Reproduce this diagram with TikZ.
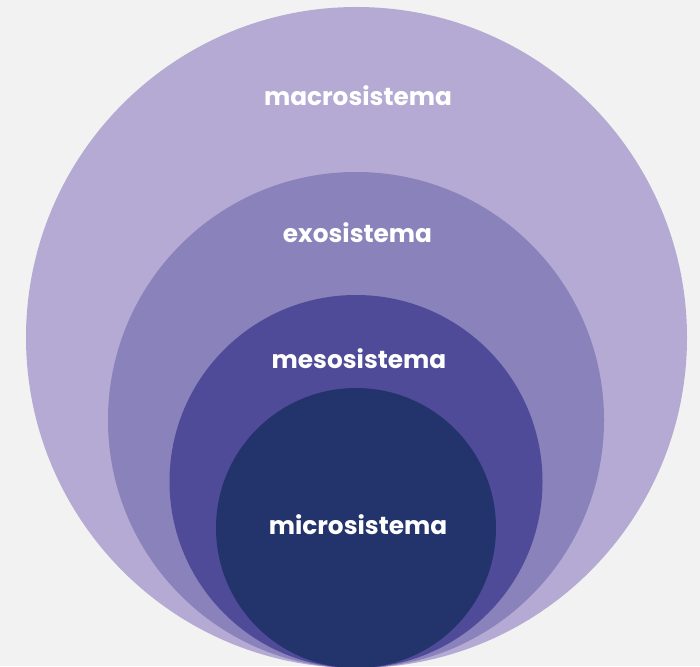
\documentclass[tikz,border=0pt]{standalone}
\usepackage{fontspec}
\setmainfont{Poppins}[BoldFont=* Bold]
\definecolor{bgc}{HTML}{F2F2F2}
\definecolor{macroc}{HTML}{B4AAD4}
\definecolor{exoc}{HTML}{8A82BA}
\definecolor{mesoc}{HTML}{4F4B98}
\definecolor{microc}{HTML}{23346C}
\begin{document}
\begin{tikzpicture}[x=1pt,y=-1pt,
  lbl/.style={text=white,font=\bfseries\fontsize{24.8}{28}\selectfont,anchor=base,inner sep=0pt}]
\useasboundingbox (0,0) rectangle (700,666);
\fill[bgc] (0,0) rectangle (700,666);
\begin{scope}
\clip (0,0) rectangle (700,666);
\fill[macroc] (356.5,337.5) circle (330.5);
\fill[exoc] (356,420) circle (248);
\fill[mesoc] (356,481.5) circle (186.5);
\fill[microc] (356,528) circle (140);
\end{scope}
\node[lbl] (macro) at (358,106) {macrosistema};
\node[lbl] (exo) at (357.5,242) {exosistema};
\node[lbl] (meso) at (359,368) {mesosistema};
\node[lbl] (micro) at (358,534) {microsistema};
\end{tikzpicture}
\end{document}
